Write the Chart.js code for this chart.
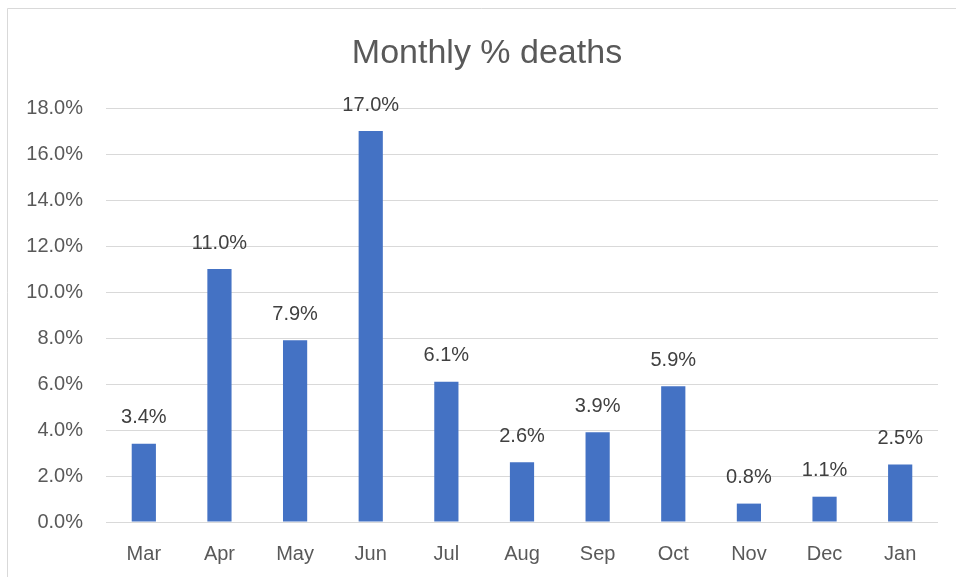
<!DOCTYPE html>
<html>
<head>
<meta charset="utf-8">
<script src="https://cdn.jsdelivr.net/npm/chart.js@4"></script>
<style>
  html, body { margin: 0; padding: 0; background: #ffffff; }
  #wrap { position: relative; width: 956px; height: 577px; }
</style>
</head>
<body>
<div id="wrap"><canvas id="c" width="956" height="577"></canvas></div>
<script>
const months = ["Mar", "Apr", "May", "Jun", "Jul", "Aug", "Sep", "Oct", "Nov", "Dec", "Jan"];
const deathPct = [3.4, 11.0, 7.9, 17.0, 6.1, 2.6, 3.9, 5.9, 0.8, 1.1, 2.5];
const yTickMax = 18;
const yTickStep = 2;
const titleText = "Monthly % deaths";

const FONT = "'Liberation Sans', Arial, sans-serif";

const borderPlugin = {
  id: 'outerBorder',
  beforeDraw(chart) {
    const ctx = chart.ctx;
    ctx.save();
    ctx.fillStyle = '#ffffff';
    ctx.fillRect(0, 0, chart.width, chart.height);
    ctx.strokeStyle = '#d9d9d9';
    ctx.lineWidth = 1;
    ctx.beginPath();
    ctx.moveTo(7.5, chart.height);
    ctx.lineTo(7.5, 8.5);
    ctx.lineTo(chart.width, 8.5);
    ctx.stroke();
    // chart title (centred on the full original chart frame)
    ctx.font = "34px " + FONT;
    ctx.fillStyle = '#595959';
    ctx.textAlign = 'center';
    ctx.textBaseline = 'alphabetic';
    ctx.fillText(titleText, 487, 63);
    ctx.restore();
  }
};

const labelPlugin = {
  id: 'barLabels',
  afterDatasetsDraw(chart) {
    const ctx = chart.ctx;
    const meta = chart.getDatasetMeta(0);
    ctx.save();
    ctx.font = "20px " + FONT;
    ctx.fillStyle = '#404040';
    ctx.textAlign = 'center';
    ctx.textBaseline = 'middle';
    meta.data.forEach((bar, i) => {
      ctx.fillText(deathPct[i].toFixed(1) + '%', bar.x, bar.y - 26);
    });
    ctx.restore();
  }
};

new Chart(document.getElementById('c'), {
  type: 'bar',
  data: {
    labels: months,
    datasets: [{
      data: deathPct,
      backgroundColor: '#4472C4',
      borderWidth: 0,
      categoryPercentage: 1.0,
      barPercentage: 0.32
    }]
  },
  options: {
    responsive: false,
    animation: false,
    devicePixelRatio: 1,
    layout: { padding: { left: 0, right: 18, top: 108, bottom: 0 } },
    plugins: {
      legend: { display: false },
      tooltip: { enabled: false },
      title: { display: false }
    },
    scales: {
      x: {
        grid: { display: false },
        border: { display: false },
        ticks: {
          color: '#595959',
          font: { family: FONT, size: 20 },
          padding: 12
        },
        afterFit(scale) { scale.height = 55; }
      },
      y: {
        min: 0,
        max: yTickMax,
        grid: { color: '#d9d9d9', lineWidth: 1, drawTicks: false },
        border: { display: false },
        ticks: {
          stepSize: yTickStep,
          color: '#595959',
          font: { family: FONT, size: 20 },
          padding: 23,
          callback: (v) => v.toFixed(1) + '%'
        },
        afterFit(scale) { scale.width = 106; }
      }
    }
  },
  plugins: [borderPlugin, labelPlugin]
});
</script>
</body>
</html>
